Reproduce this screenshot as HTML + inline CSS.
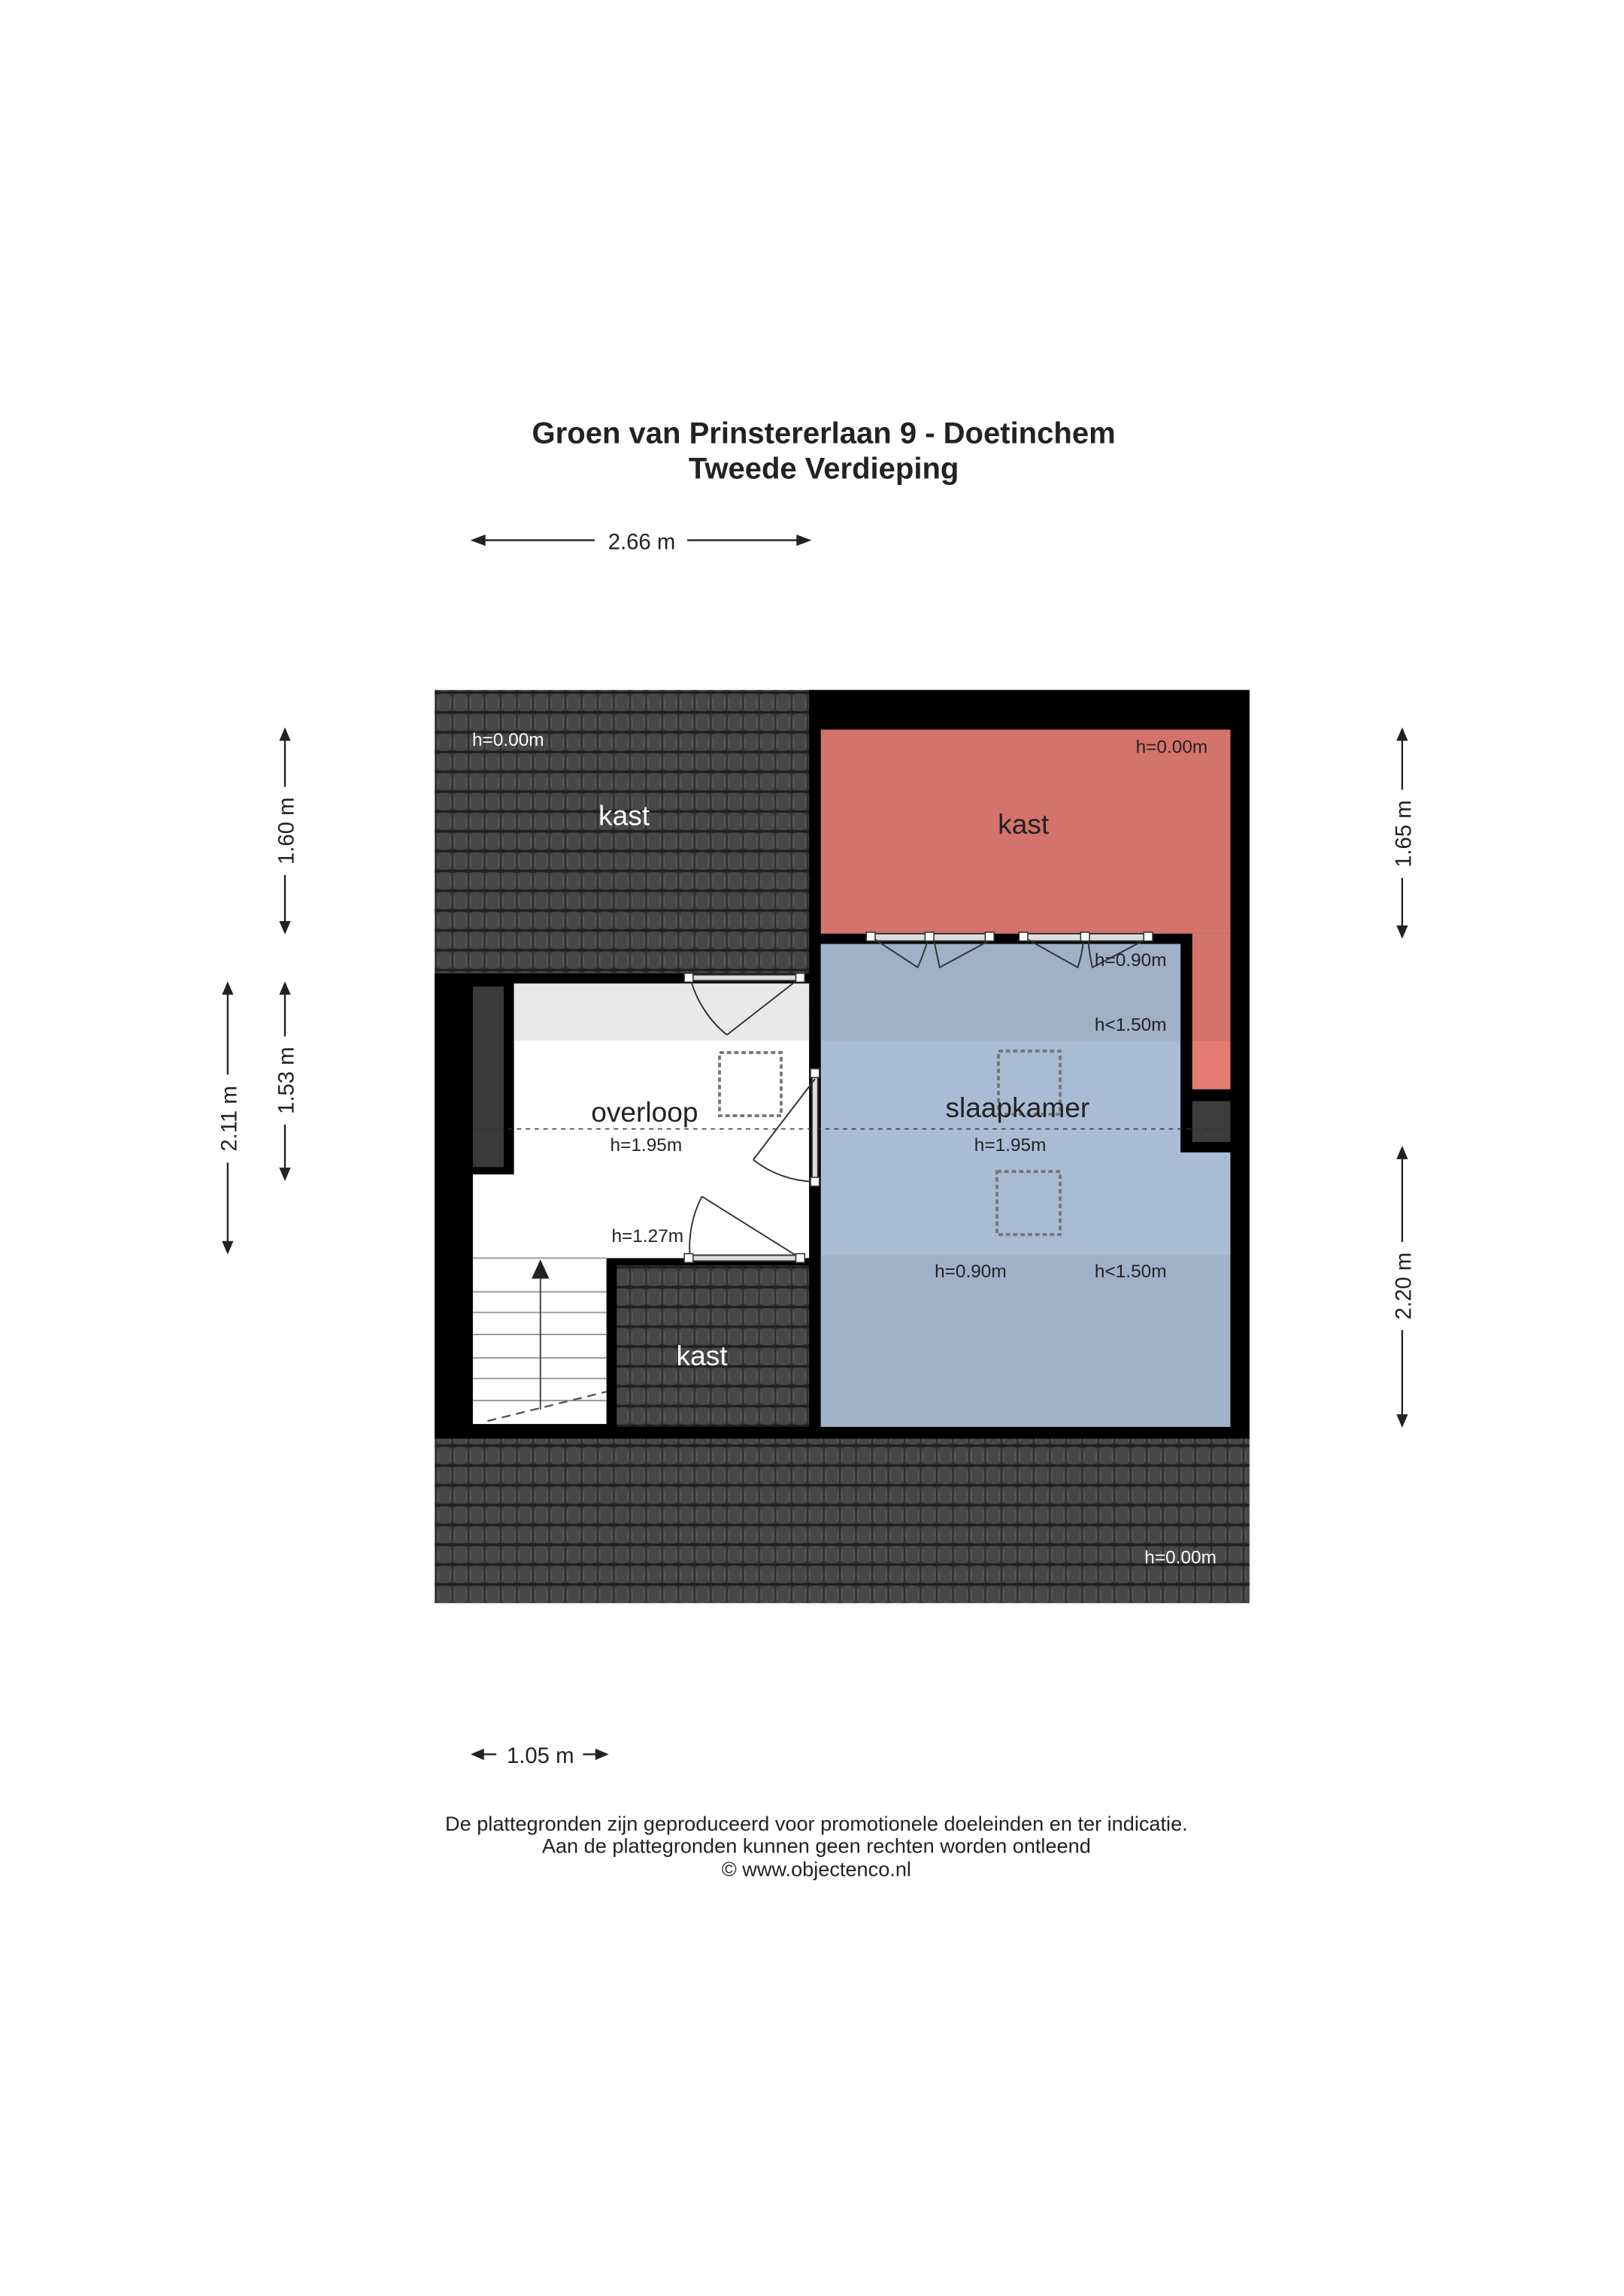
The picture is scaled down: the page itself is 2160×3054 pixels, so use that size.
<!DOCTYPE html>
<html><head><meta charset="utf-8"><style>html,body{margin:0;padding:0;background:#fff}svg{display:block}</style></head>
<body>
<svg width="2160" height="3054" viewBox="0 0 1106 1564" xmlns="http://www.w3.org/2000/svg" font-family="Liberation Sans, sans-serif">
<defs>
<pattern id="tile" width="11" height="13.5" patternUnits="userSpaceOnUse">
<rect width="11" height="13.5" fill="#2e2e2e"/>
<path d="M0.5 1 Q5.5 -1 10.5 1 L10.5 11 Q5.5 13 0.5 11 Z" fill="#474747"/>
<path d="M1.5 3 L1.5 10 M9.5 3 L9.5 10" stroke="#5a5a5a" stroke-width="0.8"/>
<rect y="12" width="11" height="1.5" fill="#1f1f1f"/>
</pattern>
</defs>
<rect width="1106" height="1564" fill="#fff"/>
<text x="561" y="302" font-size="20.5" font-weight="bold" text-anchor="middle" fill="#222">Groen van Prinstererlaan 9 - Doetinchem</text>
<text x="561" y="326" font-size="20.5" font-weight="bold" text-anchor="middle" fill="#222">Tweede Verdieping</text>
<g stroke="#222" stroke-width="1.2" fill="#222">
<line x1="322" y1="368" x2="405" y2="368"/><line x1="468" y1="368" x2="551" y2="368"/>
<path d="M322 368 l8 -3 v6z M551 368 l-8 -3 v6z"/>
<line x1="322" y1="1195" x2="338" y2="1195"/><line x1="397" y1="1195" x2="413" y2="1195"/>
<path d="M322 1195 l7 -3 v6z M413 1195 l-7 -3 v6z"/>
<line x1="194" y1="497" x2="194" y2="536"/><line x1="194" y1="596" x2="194" y2="635"/>
<path d="M194 497 l-3 7 h6z M194 635 l-3 -7 h6z"/>
<line x1="194" y1="670" x2="194" y2="706"/><line x1="194" y1="766" x2="194" y2="803"/>
<path d="M194 670 l-3 7 h6z M194 803 l-3 -7 h6z"/>
<line x1="155" y1="670" x2="155" y2="732"/><line x1="155" y1="792" x2="155" y2="853"/>
<path d="M155 670 l-3 7 h6z M155 853 l-3 -7 h6z"/>
<line x1="955" y1="497" x2="955" y2="538"/><line x1="955" y1="598" x2="955" y2="638"/>
<path d="M955 497 l-3 7 h6z M955 638 l-3 -7 h6z"/>
<line x1="955" y1="782" x2="955" y2="846"/><line x1="955" y1="906" x2="955" y2="971"/>
<path d="M955 782 l-3 7 h6z M955 971 l-3 -7 h6z"/>
</g>
<g font-size="15" fill="#222">
<text x="437" y="374" text-anchor="middle">2.66 m</text>
<text x="368" y="1201" text-anchor="middle">1.05 m</text>
<text transform="translate(200 566) rotate(-90)" text-anchor="middle">1.60 m</text>
<text transform="translate(200 736) rotate(-90)" text-anchor="middle">1.53 m</text>
<text transform="translate(161 762) rotate(-90)" text-anchor="middle">2.11 m</text>
<text transform="translate(961 568) rotate(-90)" text-anchor="middle">1.65 m</text>
<text transform="translate(961 876) rotate(-90)" text-anchor="middle">2.20 m</text>
</g>
<rect x="296" y="470" width="555" height="622" fill="url(#tile)"/>
<rect x="551" y="470" width="300" height="510" fill="#000"/>
<rect x="559" y="497" width="279" height="139" fill="#d4736c"/>
<rect x="812" y="636" width="26" height="73" fill="#d4736c"/>
<rect x="812" y="709" width="26" height="33" fill="#e57c73"/>
<rect x="812" y="750" width="26" height="28" fill="#3c3c3c"/>
<path d="M559 643 H804 V785 H838 V972 H559 Z" fill="#aabcd5"/>
<rect x="559" y="643" width="245" height="66" fill="#9fb0c7"/>
<rect x="559" y="855" width="279" height="117" fill="#9fb0c7"/>
<rect x="296" y="663" width="255" height="317" fill="#000"/>
<rect x="350" y="670" width="201" height="187" fill="#fff"/>
<rect x="322" y="800" width="91" height="57" fill="#fff"/>
<rect x="350" y="670" width="201" height="39" fill="#e9e9e9"/>
<rect x="322" y="672" width="21" height="123" fill="#3a3a3a"/>
<rect x="322" y="857" width="91" height="113" fill="#fff"/>
<rect x="420" y="862" width="131" height="110" fill="url(#tile)"/>
<g stroke="#999" stroke-width="1">
<line x1="322" y1="857" x2="413" y2="857"/>
<line x1="322" y1="880" x2="413" y2="880"/><line x1="322" y1="894" x2="413" y2="894"/>
<line x1="322" y1="909" x2="413" y2="909"/><line x1="322" y1="925" x2="413" y2="925"/>
<line x1="322" y1="939" x2="413" y2="939"/><line x1="322" y1="954" x2="413" y2="954"/>
</g>
<line x1="368" y1="960" x2="368" y2="870" stroke="#444" stroke-width="1"/>
<path d="M368 858 l-6 13 h12z" fill="#222"/>
<line x1="332" y1="968" x2="413" y2="948" stroke="#555" stroke-width="1.2" stroke-dasharray="6 4"/>
<line x1="322" y1="769" x2="838" y2="769" stroke="#333" stroke-width="0.8" stroke-dasharray="3 3"/>
<g fill="none" stroke="#777" stroke-width="2" stroke-dasharray="3 2">
<rect x="490" y="717" width="42" height="43"/>
<rect x="680" y="716" width="42" height="43"/>
<rect x="679" y="798" width="43" height="43"/>
</g>
<g fill="none" stroke="#333" stroke-width="1">
<rect x="470" y="664" width="75" height="4" fill="#ddd"/>
<path d="M545 666 L495 705 M495 705 A75 75 0 0 1 470 666"/>
<rect x="553" y="732" width="4" height="73" fill="#ddd"/>
<path d="M555 735 L513 790 M513 790 A70 70 0 0 0 555 805"/>
<rect x="470" y="855" width="75" height="4" fill="#ddd"/>
<path d="M545 857 L478 815 M478 815 A75 75 0 0 0 470 857"/>
<rect x="593" y="636" width="84" height="5" fill="#ddd"/>
<rect x="697" y="636" width="85" height="5" fill="#ddd"/>
<path d="M596 640 L625 659 Q629 650 632 640 M636 640 Q638 650 640 659 L675 640"/>
<path d="M700 640 L734 659 Q737 650 738 640 M741 640 Q742 650 744 659 L780 640"/>
</g>
<g fill="#fff" stroke="#333" stroke-width="0.8">
<rect x="466" y="663" width="6" height="6"/><rect x="542" y="663" width="6" height="6"/>
<rect x="552" y="728" width="6" height="6"/><rect x="552" y="802" width="6" height="6"/>
<rect x="466" y="854" width="6" height="6"/><rect x="542" y="854" width="6" height="6"/>
<rect x="590" y="635" width="6" height="6"/><rect x="630" y="635" width="6" height="6"/><rect x="671" y="635" width="6" height="6"/>
<rect x="694" y="635" width="6" height="6"/><rect x="736" y="635" width="6" height="6"/><rect x="779" y="635" width="6" height="6"/>
</g>
<g font-size="12.5" fill="#fff">
<text x="346" y="508" text-anchor="middle">h=0.00m</text>
<text x="804" y="1065" text-anchor="middle">h=0.00m</text>
</g>
<g font-size="19" fill="#fff" text-anchor="middle">
<text x="425" y="562">kast</text>
<text x="478" y="930">kast</text>
</g>
<g font-size="19" fill="#222" text-anchor="middle">
<text x="697" y="568">kast</text>
<text x="439" y="764">overloop</text>
<text x="693" y="761">slaapkamer</text>
</g>
<g font-size="12.5" fill="#222" text-anchor="middle">
<text x="798" y="513">h=0.00m</text>
<text x="770" y="658">h=0.90m</text>
<text x="770" y="702">h&lt;1.50m</text>
<text x="440" y="784">h=1.95m</text>
<text x="688" y="784">h=1.95m</text>
<text x="441" y="846">h=1.27m</text>
<text x="661" y="870">h=0.90m</text>
<text x="770" y="870">h&lt;1.50m</text>
</g>
<g font-size="13.9" fill="#222" text-anchor="middle">
<text x="556" y="1247">De plattegronden zijn geproduceerd voor promotionele doeleinden en ter indicatie.</text>
<text x="556" y="1262">Aan de plattegronden kunnen geen rechten worden ontleend</text>
<text x="556" y="1278">© www.objectenco.nl</text>
</g>
</svg>
</body></html>
